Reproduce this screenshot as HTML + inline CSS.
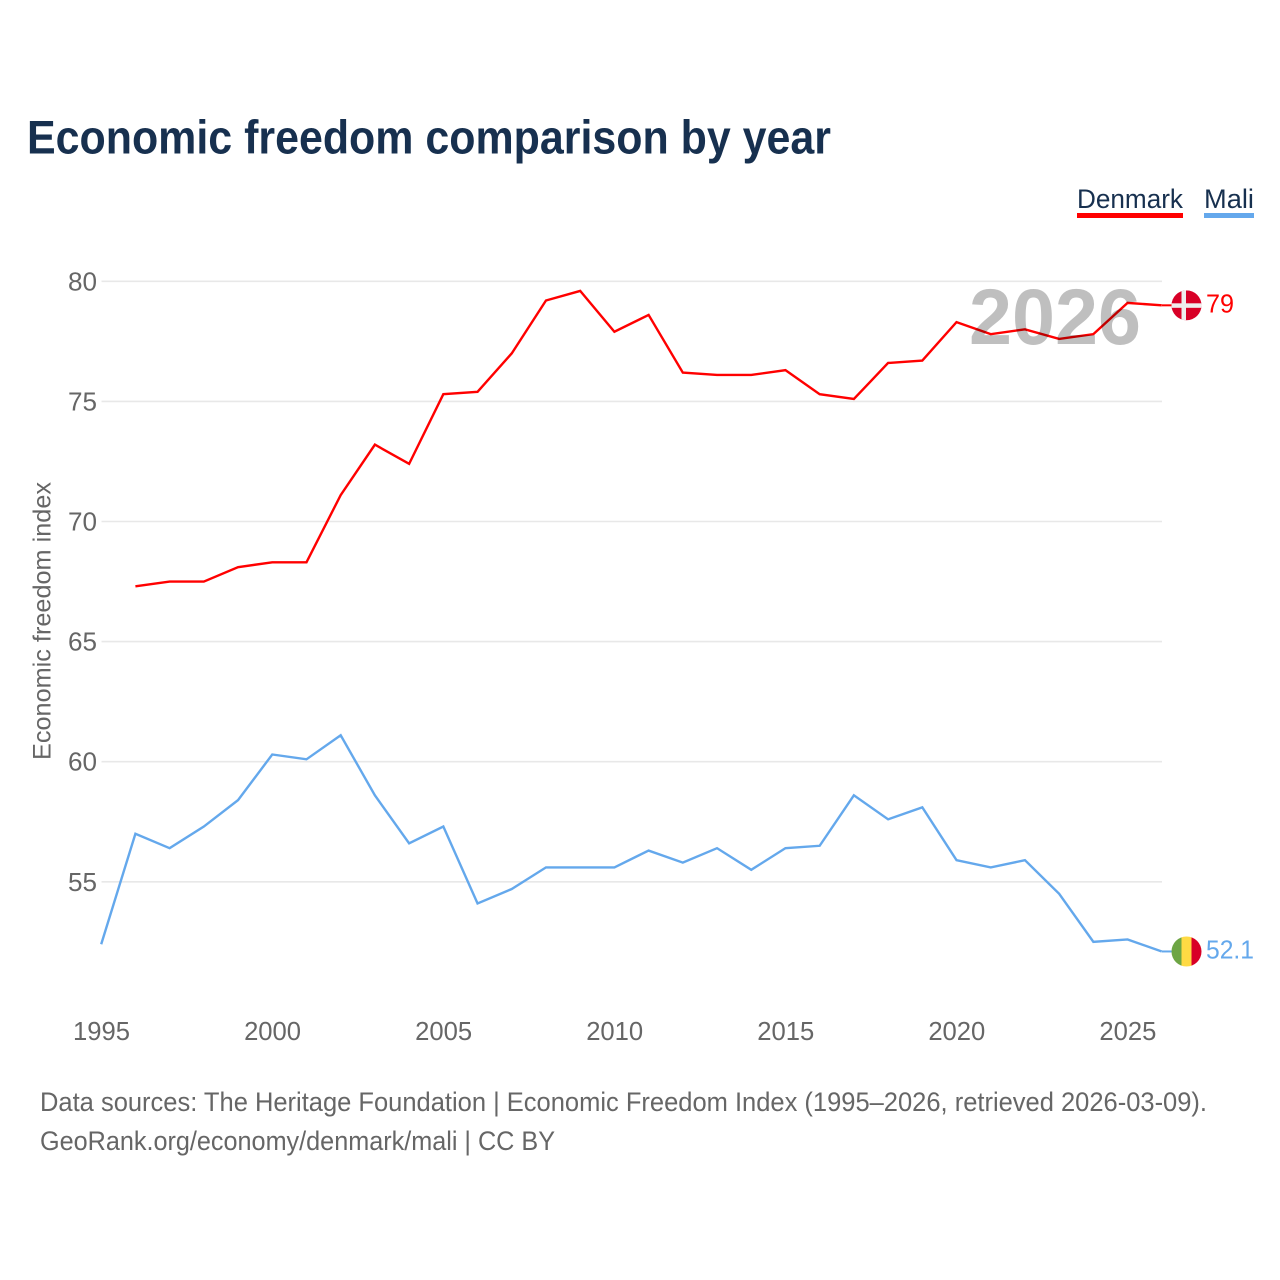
<!DOCTYPE html>
<html lang="en">
<head>
<meta charset="utf-8">
<title>Economic freedom comparison by year</title>
<style>
html,body{margin:0;padding:0;background:#fff;width:1280px;height:1280px;overflow:hidden}
svg{display:block}
text{font-family:"Liberation Sans",sans-serif}
</style>
</head>
<body>
<svg id="chart" width="1280" height="1280" viewBox="0 0 1280 1280" xmlns="http://www.w3.org/2000/svg">
  <rect width="1280" height="1280" fill="#ffffff"/>
  <text x="27" y="153.5" font-size="47" font-weight="700" fill="#17304f" textLength="804" lengthAdjust="spacingAndGlyphs">Economic freedom comparison by year</text>

  <g>
    <text x="1077" y="208" font-size="27" fill="#17304f" textLength="106" lengthAdjust="spacingAndGlyphs">Denmark</text>
    <rect x="1077" y="213" width="106" height="5" fill="#ff0000"/>
  </g>
  <g>
    <text x="1204" y="208" font-size="27" fill="#17304f" textLength="50" lengthAdjust="spacingAndGlyphs">Mali</text>
    <rect x="1204" y="213" width="50" height="5" fill="#64a8ec"/>
  </g>

  <text transform="translate(50.5,760) rotate(-90)" font-size="25" fill="#666666" textLength="278" lengthAdjust="spacingAndGlyphs">Economic freedom index</text>

  <g id="grid"></g>
  <g id="yticks"></g>
  <g id="xticks"></g>
  <g id="series"></g>

  <text x="969" y="344" font-size="79" font-weight="700" fill="#000000" fill-opacity="0.25" textLength="172" lengthAdjust="spacingAndGlyphs">2026</text>

  <defs>
    <clipPath id="clip-dk"><circle id="clip-dk-c" r="15" cx="1186.5" cy="305"/></clipPath>
    <clipPath id="clip-ml"><circle id="clip-ml-c" r="15" cx="1186.5" cy="951"/></clipPath>
  </defs>
  <g id="markers"></g>

  <text x="40" y="1111" font-size="27" fill="#666666" textLength="1167" lengthAdjust="spacingAndGlyphs">Data sources: The Heritage Foundation | Economic Freedom Index (1995–2026, retrieved 2026-03-09).</text>
  <text x="40" y="1150" font-size="27" fill="#666666" textLength="515" lengthAdjust="spacingAndGlyphs">GeoRank.org/economy/denmark/mali | CC BY</text>
</svg>
<script>
const years = [1995,1996,1997,1998,1999,2000,2001,2002,2003,2004,2005,2006,2007,2008,2009,2010,2011,2012,2013,2014,2015,2016,2017,2018,2019,2020,2021,2022,2023,2024,2025,2026];
const denmarkValues = [null,67.3,67.5,67.5,68.1,68.3,68.3,71.1,73.2,72.4,75.3,75.4,77.0,79.2,79.6,77.9,78.6,76.2,76.1,76.1,76.3,75.3,75.1,76.6,76.7,78.3,77.8,78.0,77.6,77.8,79.1,79.0];
const maliValues = [52.4,57.0,56.4,57.3,58.4,60.3,60.1,61.1,58.6,56.6,57.3,54.1,54.7,55.6,55.6,55.6,56.3,55.8,56.4,55.5,56.4,56.5,58.6,57.6,58.1,55.9,55.6,55.9,54.5,52.5,52.6,52.1];
const yTicks = [55,60,65,70,75,80];
const xTicks = [1995,2000,2005,2010,2015,2020,2025];
const denmarkEndLabel = "79";
const maliEndLabel = "52.1";

const SVG_NS = "http://www.w3.org/2000/svg";
function xScale(year){ return 101.2 + (year - 1995) * (1161.8 - 101.2) / 31; }
function yScale(value){ return 881.8 - (value - 55) * (881.8 - 281.3) / 25; }
function make(tag, attrs, parent){
  const el = document.createElementNS(SVG_NS, tag);
  for (const k in attrs) el.setAttribute(k, attrs[k]);
  parent.appendChild(el);
  return el;
}

const grid = document.getElementById("grid");
const yLabels = document.getElementById("yticks");
yTicks.forEach(function(t){
  const line = make("line", {x1:101.5, x2:1162, y1:yScale(t), y2:yScale(t), stroke:"#e8e8e8", "stroke-width":1.6}, grid);
  
  
  const label = make("text", {x:97, y:yScale(t)+9, "text-anchor":"end", "font-size":26, fill:"#666666", textLength:29, lengthAdjust:"spacingAndGlyphs"}, yLabels);
  
  
  label.textContent = String(t);
});

const xLabels = document.getElementById("xticks");
xTicks.forEach(function(t){
  const label = make("text", {x:xScale(t)+0.3, y:1040, "text-anchor":"middle", "font-size":26, fill:"#666666", textLength:57, lengthAdjust:"spacingAndGlyphs"}, xLabels);
  
  
  label.textContent = String(t);
});

function pathFor(values){
  let d = "";
  values.forEach(function(v, i){
    if (v === null) return;
    d += (d ? "L" : "M") + xScale(years[i]).toFixed(2) + " " + yScale(v).toFixed(2);
  });
  return d;
}
const seriesGroup = document.getElementById("series");
const denmarkPath = make("path", {d:pathFor(denmarkValues), fill:"none", stroke:"#ff0000", "stroke-width":2.4, "stroke-linejoin":"miter"}, seriesGroup);


const maliPath = make("path", {d:pathFor(maliValues), fill:"none", stroke:"#64a8ec", "stroke-width":2.4, "stroke-linejoin":"miter"}, seriesGroup);



const markers = document.getElementById("markers");
const dkY = yScale(denmarkValues[denmarkValues.length - 1]);
const mlY = yScale(maliValues[maliValues.length - 1]);
const cx = 1186.5;
const flagX = cx - 15;
document.getElementById("clip-dk-c").setAttribute("cy", dkY);
document.getElementById("clip-ml-c").setAttribute("cy", mlY);

const dkConnector = make("line", {x1:1162, x2:flagX, y1:dkY, y2:dkY, stroke:"#ff0000", "stroke-width":2}, markers);


const mlConnector = make("line", {x1:1162, x2:flagX, y1:mlY, y2:mlY, stroke:"#64a8ec", "stroke-width":2}, markers);



const dkFlag = make("g", {"clip-path":"url(#clip-dk)"}, markers);


make("rect", {x:flagX, y:dkY-15, width:30, height:30, fill:"#d80027"}, dkFlag);
make("rect", {x:flagX+10, y:dkY-15, width:4.5, height:30, fill:"#eeeeee"}, dkFlag);
make("rect", {x:flagX, y:dkY-2, width:30, height:4.5, fill:"#eeeeee"}, dkFlag);

const mlFlag = make("g", {"clip-path":"url(#clip-ml)"}, markers);


make("rect", {x:flagX, y:mlY-15, width:10, height:30, fill:"#6da544"}, mlFlag);
make("rect", {x:flagX+10, y:mlY-15, width:10, height:30, fill:"#ffda44"}, mlFlag);
make("rect", {x:flagX+20, y:mlY-15, width:10, height:30, fill:"#d80027"}, mlFlag);

const dkLabel = make("text", {x:1206, y:dkY+7, "font-size":26, fill:"#ff0000", textLength:28, lengthAdjust:"spacingAndGlyphs"}, markers);


dkLabel.textContent = denmarkEndLabel;
const mlLabel = make("text", {x:1206, y:mlY+7, "font-size":26, fill:"#64a8ec", textLength:48, lengthAdjust:"spacingAndGlyphs"}, markers);


mlLabel.textContent = maliEndLabel;
</script>
</body>
</html>
